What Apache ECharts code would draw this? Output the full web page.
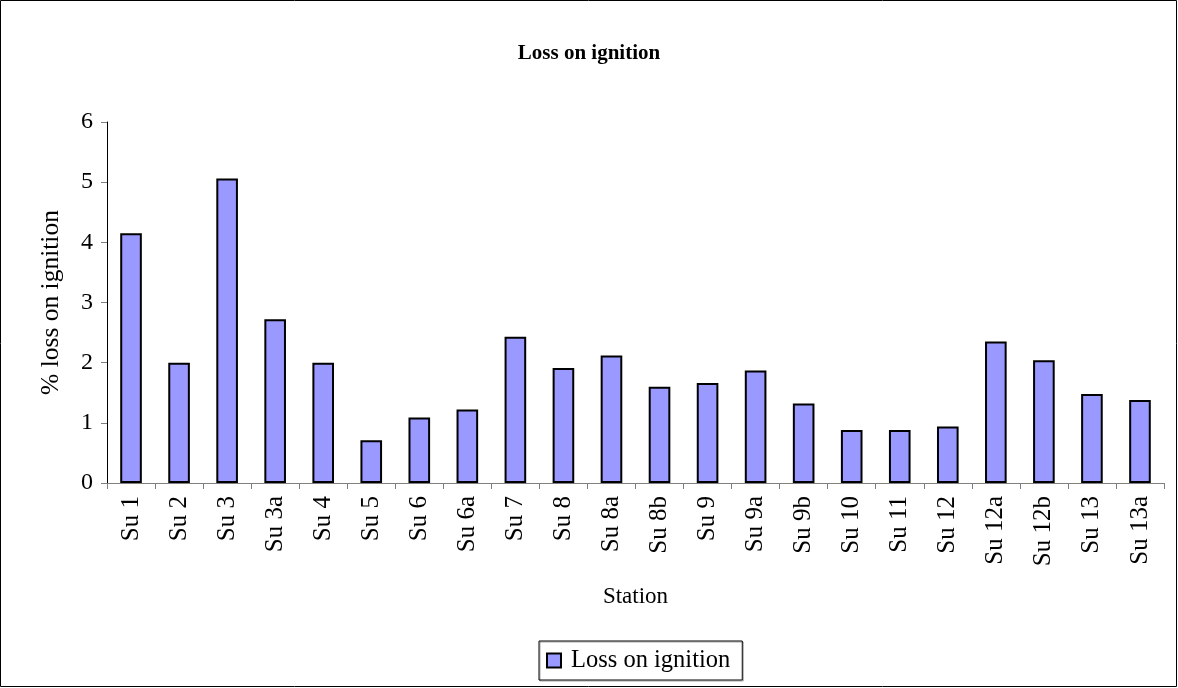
<!DOCTYPE html>
<html>
<head>
<meta charset="utf-8">
<script src="https://cdn.jsdelivr.net/npm/echarts@6/dist/echarts.min.js"></script>
<style>
  html, body { margin: 0; padding: 0; background: #fff; }
  #chart { width: 1178px; height: 688px; }
</style>
</head>
<body>
<div id="chart"></div>
<script>
// Stations sampled and their loss on ignition (%)
const stations = ['Su 1', 'Su 2', 'Su 3', 'Su 3a', 'Su 4', 'Su 5', 'Su 6', 'Su 6a', 'Su 7', 'Su 8', 'Su 8a',
  'Su 8b', 'Su 9', 'Su 9a', 'Su 9b', 'Su 10', 'Su 11', 'Su 12', 'Su 12a', 'Su 12b', 'Su 13', 'Su 13a'];
const lossOnIgnition = [4.15, 2.0, 5.06, 2.72, 2.0, 0.71, 1.09, 1.22, 2.43, 1.91, 2.12,
  1.60, 1.66, 1.87, 1.32, 0.88, 0.88, 0.94, 2.35, 2.04, 1.48, 1.38];
const yTicks = { min: 0, max: 6, interval: 1 };

const serif = '"Liberation Serif", "DejaVu Serif", serif';
const chart = echarts.init(document.getElementById('chart'));

chart.setOption({
  backgroundColor: '#ffffff',
  animation: false,
  textStyle: { fontFamily: serif, color: '#000' },
  graphic: [{
    type: 'rect',
    shape: { x: 0.5, y: 0.5, width: 1176, height: 686 },
    style: { fill: 'none', stroke: '#000', lineWidth: 1 },
    silent: true
  }],
  title: {
    text: 'Loss on ignition',
    left: 'center',
    top: 38,
    textStyle: { fontFamily: serif, fontSize: 21, fontWeight: 'bold', color: '#000' }
  },
  legend: {
    data: ['Loss on ignition'],
    left: 539,
    top: 641,
    padding: [7, 12, 7, 7],
    itemWidth: 14,
    itemHeight: 14,
    icon: 'rect',
    borderColor: '#000',
    borderWidth: 1,
    shadowColor: 'rgba(0,0,0,0.35)',
    shadowOffsetX: 1,
    shadowOffsetY: 1,
    textStyle: { fontFamily: serif, fontSize: 24.5, color: '#000', padding: [0, 0, 0, 5] }
  },
  grid: { left: 107, right: 14, top: 122, bottom: 205 },
  xAxis: {
    type: 'category',
    data: stations,
    name: 'Station',
    nameLocation: 'middle',
    nameGap: 102,
    nameTextStyle: { fontFamily: serif, fontSize: 23, color: '#000' },
    axisLine: { lineStyle: { color: '#808080', width: 1 } },
    axisTick: { show: true, length: 6, lineStyle: { color: '#808080' } },
    axisLabel: { rotate: 90, margin: 13, fontFamily: serif, fontSize: 25, color: '#000' }
  },
  yAxis: {
    type: 'value',
    min: yTicks.min,
    max: yTicks.max,
    interval: yTicks.interval,
    name: '% loss on ignition',
    nameLocation: 'middle',
    nameGap: 43,
    nameRotate: 90,
    nameTextStyle: { fontFamily: serif, fontSize: 25.5, color: '#000' },
    axisLine: { show: true, lineStyle: { color: '#000', width: 1 } },
    axisTick: { show: true, length: 6, lineStyle: { color: '#808080' } },
    axisLabel: { margin: 14, fontFamily: serif, fontSize: 24, color: '#000' },
    splitLine: { show: false }
  },
  series: [{
    name: 'Loss on ignition',
    type: 'bar',
    data: lossOnIgnition,
    barWidth: '45%',
    itemStyle: {
      color: '#9999FF',
      borderColor: '#000',
      borderWidth: 2
    }
  }]
});
</script>
</body>
</html>
